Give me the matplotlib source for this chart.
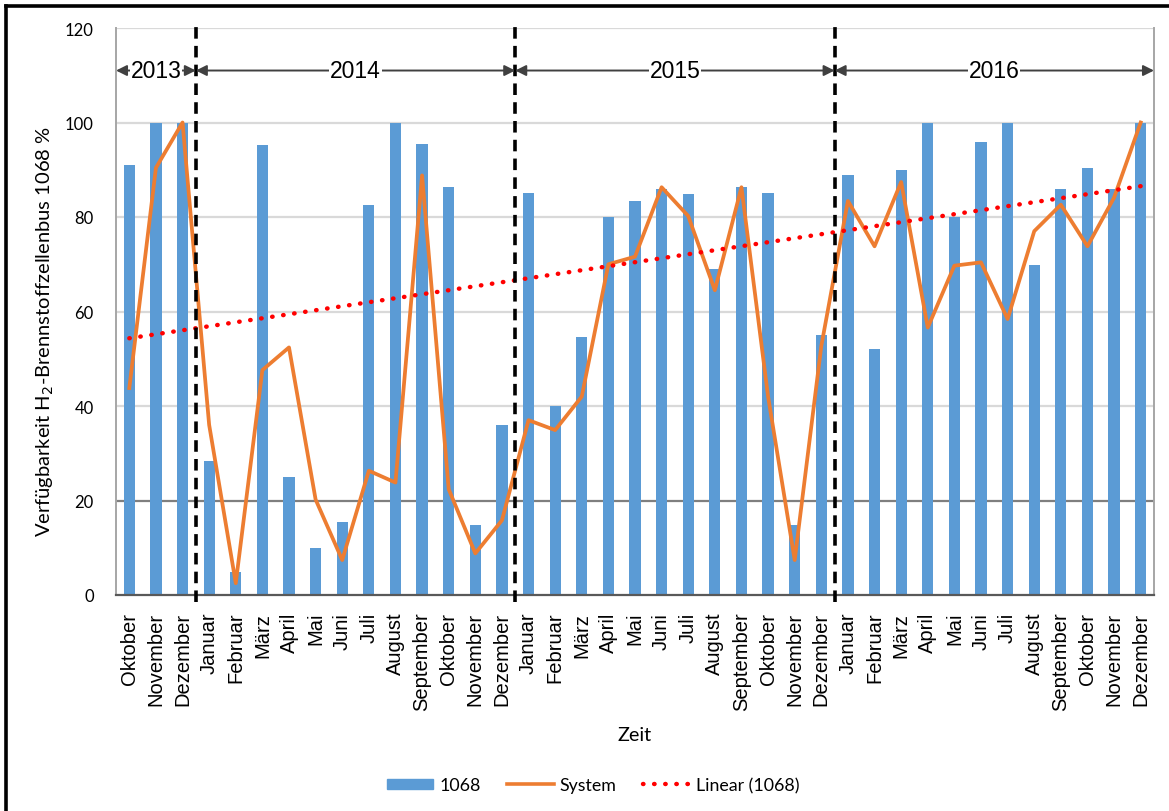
import matplotlib as mpl

mpl.use("Agg")

import matplotlib.pyplot as plt
import numpy as np
from matplotlib.lines import Line2D
from matplotlib.patches import Patch

# Monthly availability of fuel-cell bus 1068 (Oct 2013 - Dec 2016), percent
MONTHS = ["Oktober", "November", "Dezember"] + [
    "Januar", "Februar", "März", "April", "Mai", "Juni",
    "Juli", "August", "September", "Oktober", "November", "Dezember",
] * 3
BUS_1068 = [
    91.0, 100.0, 100.0,
    28.4, 4.9, 95.2, 24.9, 9.9, 15.4, 82.5, 100.0, 95.4, 86.3, 14.9, 35.9,
    85.0, 39.9, 54.5, 79.9, 83.4, 85.9, 84.8, 69.0, 86.3, 85.0, 14.9, 55.0,
    88.8, 52.0, 89.9, 100.0, 79.9, 95.9, 100.0, 69.9, 85.9, 90.4, 85.9, 100.0,
]
SYSTEM = [
    43.8, 90.4, 100.0,
    36.0, 2.5, 47.6, 52.4, 20.2, 7.4, 26.3, 23.8, 88.8, 22.4, 8.8, 15.8,
    37.0, 34.9, 42.0, 70.0, 71.6, 86.3, 80.2, 64.5, 86.3, 42.0, 7.4, 52.7,
    83.4, 73.8, 87.4, 56.6, 69.7, 70.4, 58.4, 77.0, 82.6, 73.8, 84.1, 100.0,
]
YEARS = ["2013", "2014", "2015", "2016"]
YEAR_STARTS = [0, 3, 15, 27]

BLUE = "#5B9BD5"
ORANGE = "#ED7D31"
RED = "#FF0000"

mpl.rcParams.update({"font.family": ["Lato", "DejaVu Sans"]})

fig = plt.figure(figsize=(11.69, 8.12), dpi=100)
W, H = 1169, 812
AX_L, AX_R, AX_T, AX_B = 116, 1154, 29, 596
ax = fig.add_axes([AX_L / W, 1 - AX_B / H, (AX_R - AX_L) / W, (AX_B - AX_T) / H])

x = np.arange(len(BUS_1068))
ax.bar(x, BUS_1068, width=0.42, color=BLUE, zorder=2)
ax.plot(x, SYSTEM, color=ORANGE, lw=2.7, zorder=3)

# linear trend of the bus availability
slope, icpt = np.polyfit(x, BUS_1068, 1)
ax.plot(x, slope * x + icpt, color=RED, lw=3.2, ls=(0, (0.1, 2.4)),
        dash_capstyle="round", zorder=4)

ax.set_xlim(-0.5, len(x) - 0.5)
ax.set_ylim(0, 120)
ax.set_yticks(range(0, 121, 20))
ax.set_xticks(x)
ax.set_xticklabels(MONTHS, rotation=90, family=["Liberation Sans"], fontsize=14.5)
ax.tick_params(axis="x", length=0, pad=12)
ax.tick_params(axis="y", length=0, pad=16, labelsize=12)

for v in range(20, 121, 20):
    col = "#7F7F7F" if v == 20 else "#D9D9D9"
    ax.axhline(v, color=col, lw=1.6, zorder=1)
for side in ["left", "right"]:
    ax.spines[side].set_color("#A6A6A6")
    ax.spines[side].set_linewidth(1.4)
ax.spines["bottom"].set_color("#595959")
ax.spines["bottom"].set_linewidth(1.6)
ax.spines["top"].set_visible(False)

# year dividers and spans
bounds = [s - 0.5 for s in YEAR_STARTS] + [len(x) - 0.5]
for b in bounds[1:-1]:
    ax.plot([b, b], [-1.5, 121], color="black", lw=2.6, ls=(0, (3.2, 2.0)),
            clip_on=False, zorder=5)
for year, lo, hi in zip(YEARS, bounds[:-1], bounds[1:]):
    ax.annotate("", xy=(lo, 111), xytext=(hi, 111),
                arrowprops=dict(arrowstyle="<|-|>", color="#404040", lw=1.4,
                                mutation_scale=16, shrinkA=0, shrinkB=0),
                zorder=6)
    ax.text((lo + hi) / 2, 111, year, ha="center", va="center",
            family=["Liberation Sans"], fontsize=16.5, zorder=7,
            bbox=dict(fc="white", ec="none", pad=0.5))

ax.set_ylabel("Verfügbarkeit H$_2$-Brennstoffzellenbus 1068 %", fontsize=14.5)
ax.yaxis.set_label_coords(-60 / (AX_R - AX_L), (AX_B - 332) / (AX_B - AX_T))
fig.text(635 / W, 1 - 736 / H, "Zeit", ha="center", va="center", fontsize=14.2)

handles = [
    Patch(color=BLUE),
    Line2D([], [], color=ORANGE, lw=2.6),
    Line2D([], [], color=RED, lw=3.2, ls=(0, (0.1, 2.4)), dash_capstyle="round"),
]
fig.legend(handles, ["1068", "System", "Linear (1068)"], loc="center",
           bbox_to_anchor=(593 / W, 1 - 786 / H), ncol=3, frameon=False,
           fontsize=12.8, handlelength=2.6, handleheight=0.5,
           columnspacing=1.5, handletextpad=0.35)

# outer frame (top and left edges)
fig.add_artist(Line2D([6 / W, 1], [1 - 7 / H, 1 - 7 / H], color="black", lw=2.6))
fig.add_artist(Line2D([6 / W, 6 / W], [0, 1 - 7 / H], color="black", lw=2.6))

fig.savefig("out.png", dpi=100)
